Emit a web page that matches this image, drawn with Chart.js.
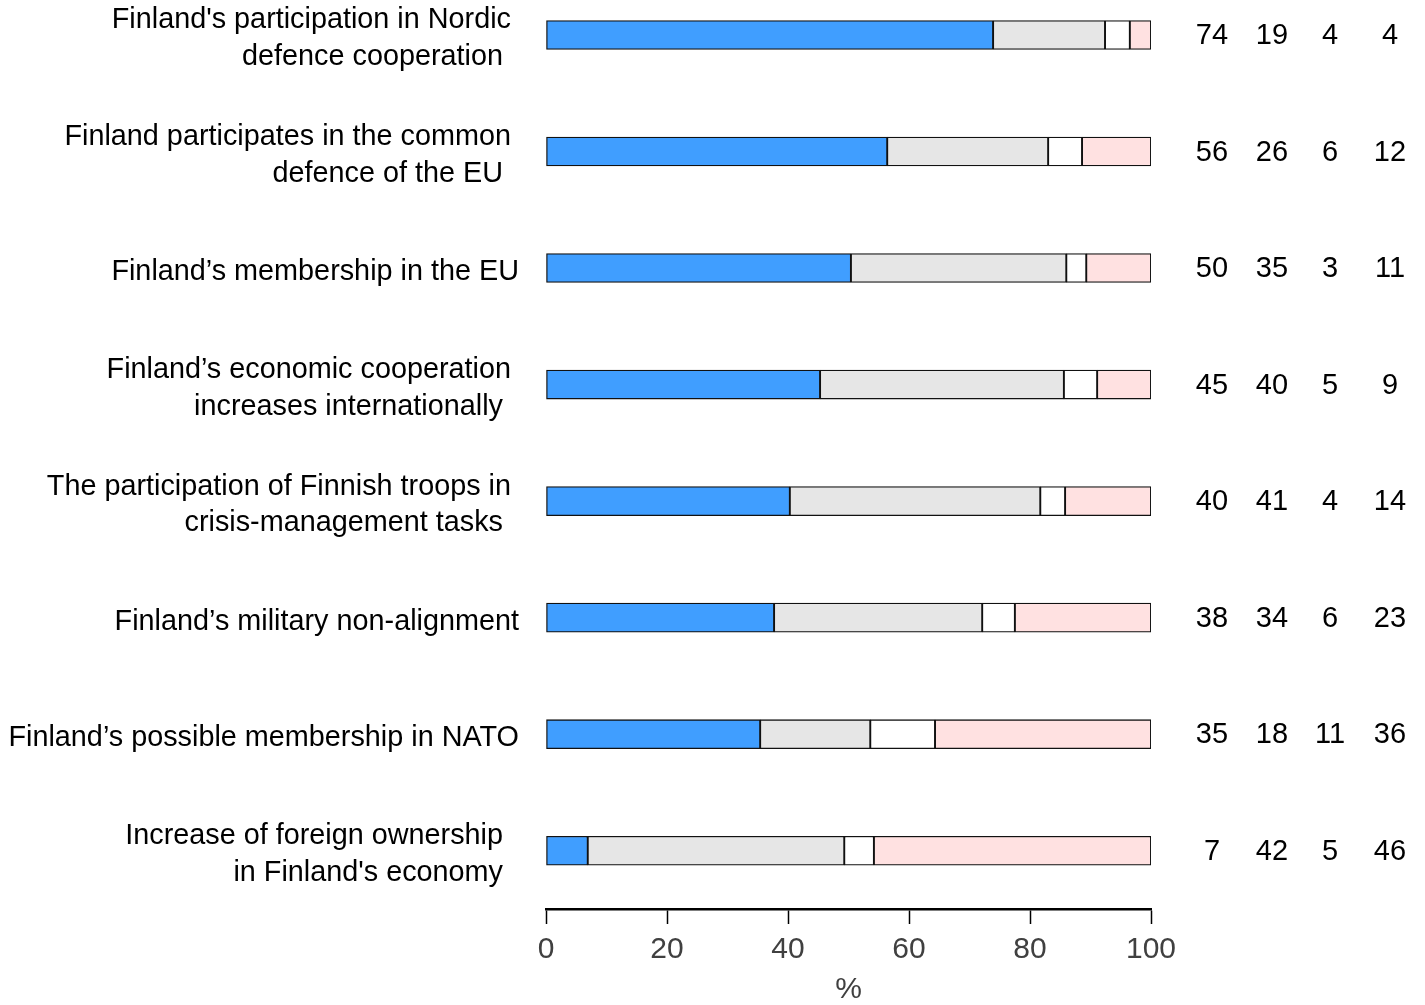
<!DOCTYPE html>
<html>
<head>
<meta charset="utf-8">
<script src="https://cdn.jsdelivr.net/npm/chart.js@4.4.1/dist/chart.umd.min.js"></script>
<style>
  html, body { margin: 0; padding: 0; background: #fff; }
  #wrap { width: 1425px; height: 1005px; }
</style>
</head>
<body>
<div id="wrap"><canvas id="chart"></canvas></div>
<script>
// --- Data ---
const categories = [
    ["Finland's participation in Nordic ", "defence cooperation  "],
    ["Finland participates in the common ", "defence of the EU  "],
    "Finland\u2019s membership in the EU",
    ["Finland\u2019s economic cooperation ", "increases internationally  "],
    ["The participation of Finnish troops in ", "crisis-management tasks  "],
    "Finland\u2019s military non-alignment",
    "Finland\u2019s possible membership in NATO",
    ["Increase of foreign ownership  ", "in Finland's economy  "]
];

// bar lengths (unrounded shares)
const blueValues  = [73.9, 56.4, 50.4, 45.3, 40.3, 37.7, 35.4, 6.9];
const grayValues  = [18.5, 26.6, 35.6, 40.3, 41.4, 34.4, 18.2, 42.4];
const whiteValues = [4.1, 5.6, 3.3, 5.5, 4.1, 5.4, 10.7, 4.9];
const pinkValues  = [3.5, 11.4, 10.7, 8.9, 14.2, 22.5, 35.7, 45.8];

// rounded numbers printed at the right
const blueLabels  = [74, 56, 50, 45, 40, 38, 35, 7];
const grayLabels  = [19, 26, 35, 40, 41, 34, 18, 42];
const whiteLabels = [4, 6, 3, 5, 4, 6, 11, 5];
const pinkLabels  = [4, 12, 11, 9, 14, 23, 36, 46];

const xTicks = [0, 20, 40, 60, 80, 100];

const FONT = "'Liberation Sans', Arial, sans-serif";

function series(values, color) {
    return {
        data: values.map((v, i) => ({ x: v, y: i })),
        backgroundColor: color,
        borderColor: '#111',
        borderWidth: 1.3,
        borderSkipped: false,
        barThickness: 29
    };
}

// --- Right-hand number columns ---
const numberColumns = {
    id: 'numberColumns',
    afterDatasetsDraw(chart) {
        const { ctx, chartArea, scales } = chart;
        const cols = [blueLabels, grayLabels, whiteLabels, pinkLabels];
        const offsets = [61, 121, 179, 239];
        ctx.save();
        ctx.font = '29px ' + FONT;
        ctx.fillStyle = '#000';
        ctx.textAlign = 'center';
        ctx.textBaseline = 'middle';
        cols.forEach((col, c) => {
            col.forEach((v, i) => {
                ctx.fillText(String(v), chartArea.right + offsets[c], scales.y.getPixelForValue(i) + 1);
            });
        });
        ctx.restore();
    }
};

new Chart(document.getElementById('chart'), {
    type: 'bar',
    data: {
        datasets: [
            series(blueValues, '#409eff'),
            series(grayValues, '#e6e6e6'),
            series(whiteValues, '#ffffff'),
            series(pinkValues, '#ffe1e1')
        ]
    },
    options: {
        indexAxis: 'y',
        responsive: true,
        maintainAspectRatio: false,
        animation: false,
        layout: { padding: { left: 0, right: 274, top: 0, bottom: 0 } },
        plugins: {
            legend: { display: false },
            tooltip: { enabled: false }
        },
        scales: {
            x: {
                type: 'linear',
                stacked: true,
                min: 0,
                max: 100,
                afterBuildTicks: s => { s.ticks = xTicks.map(v => ({ value: v })); },
                afterFit: s => { s.height = 96; },
                grid: {
                    drawOnChartArea: false,
                    drawTicks: true,
                    tickLength: 15,
                    tickWidth: 1.5,
                    color: '#000'
                },
                border: { display: true, color: '#000', width: 2.5 },
                ticks: {
                    color: '#404040',
                    font: { family: FONT, size: 30 },
                    padding: 8,
                    maxRotation: 0
                },
                title: {
                    display: true,
                    text: '%',
                    color: '#404040',
                    font: { family: FONT, size: 30, lineHeight: 1 },
                    padding: { top: 4, bottom: 0 }
                }
            },
            y: {
                type: 'linear',
                stacked: true,
                reverse: true,
                offset: false,
                bounds: 'data',
                min: -0.3,
                max: 7.5,
                afterBuildTicks: s => { s.ticks = categories.map((_, i) => ({ value: i })); },
                afterFit: s => { s.width = 546; s.paddingTop = 0; s.paddingBottom = 0; },
                grid: { display: false, drawTicks: false, offset: false },
                border: { display: false },
                ticks: {
                    color: '#000',
                    font: { family: FONT, size: 28.8, lineHeight: 1.28 },
                    padding: 27,
                    labelOffset: 4,
                    autoSkip: false,
                    callback: v => categories[v]
                }
            }
        }
    },
    plugins: [numberColumns]
});
</script>
</body>
</html>
